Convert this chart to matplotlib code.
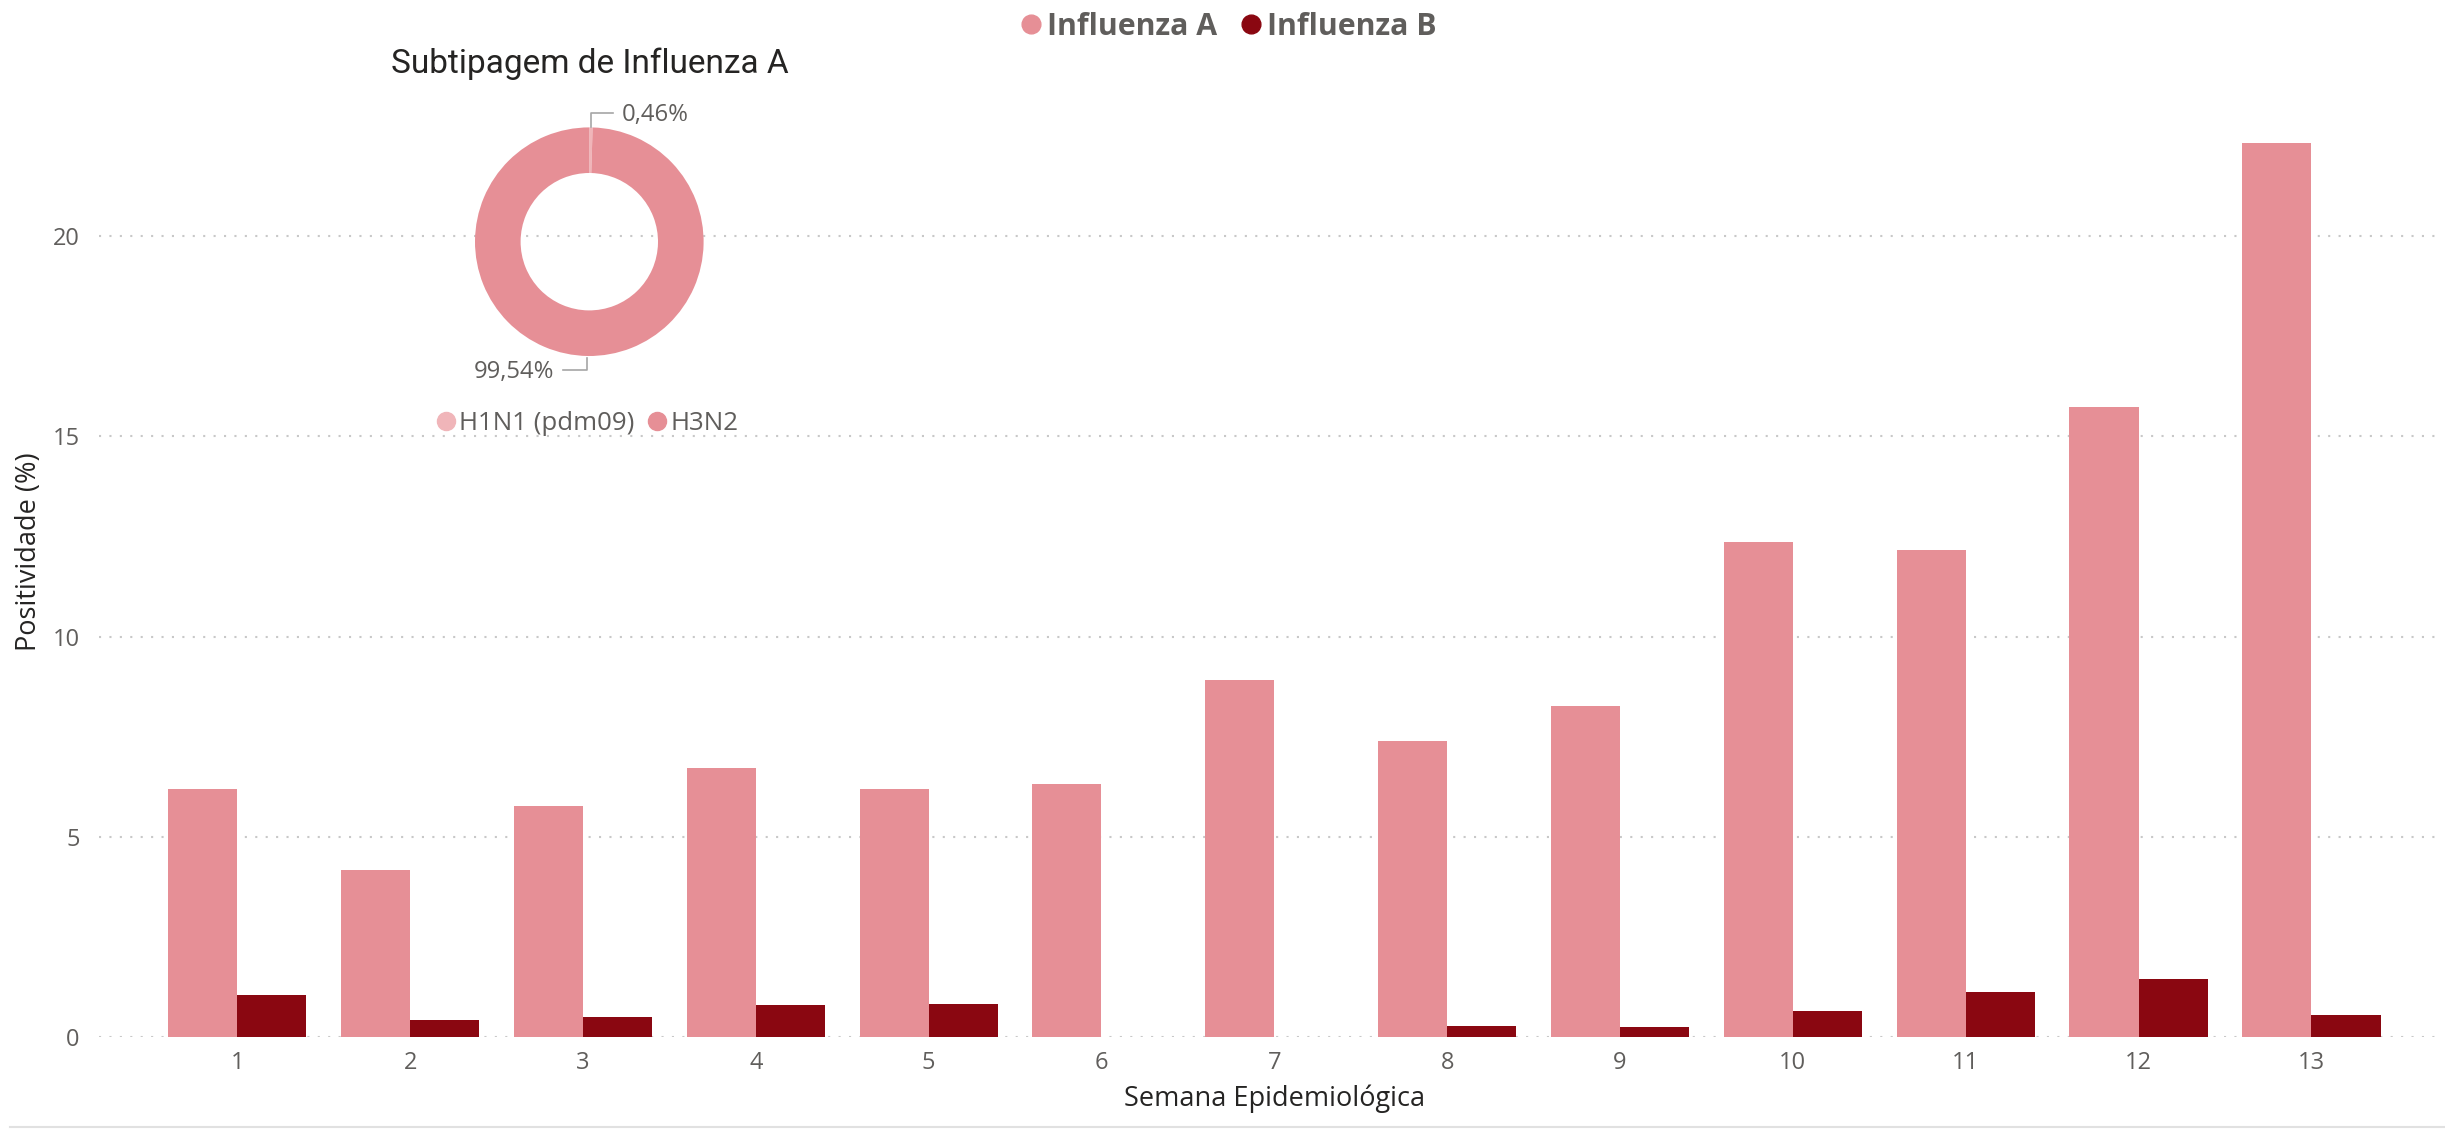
import numpy as np
import matplotlib
matplotlib.use("Agg")
import matplotlib.pyplot as plt
from matplotlib.lines import Line2D

# data
weeks = [str(i) for i in range(1, 14)]
flu_a = [6.19, 4.17, 5.76, 6.73, 6.19, 6.31, 8.91, 7.40, 8.26, 12.37, 12.17, 15.72, 22.32]
flu_b = [1.06, 0.43, 0.51, 0.81, 0.84, 0.0, 0.0, 0.28, 0.26, 0.66, 1.13, 1.46, 0.56]
sub_labels = ["H1N1 (pdm09)", "H3N2"]
sub_values = [0.46, 99.54]
sub_text = ["0,46%", "99,54%"]

C_A = "#E68F96"
C_B = "#8A0711"
C_H1 = "#F0B5B9"
GRAY_TXT = "#605E5C"
DARK_TXT = "#252423"

plt.rcParams['font.family'] = ['Open Sans', 'DejaVu Sans']

W, H = 2445, 1129
fig = plt.figure(figsize=(W / 100, H / 100), dpi=100)

# main bar chart
ax = fig.add_axes([99 / W, 1 - 1037.3 / H, (2441 - 99) / W, (1037.3 - 100) / H])
x = np.arange(len(weeks))
ax.bar(x - 0.2, flu_a, 0.4, color=C_A, label="Influenza A", zorder=2)
ax.bar(x + 0.2, flu_b, 0.4, color=C_B, label="Influenza B", zorder=2)
ax.set_xlim(-0.80, 12.75)
ax.set_ylim(0, (1037.3 - 100) / 40.07)
ax.set_xticks(x)
ax.set_xticklabels(weeks)
ax.set_yticks([0, 5, 10, 15, 20])
ax.yaxis.grid(True, color="#C8C8C8", linestyle=(0, (1, 4)), linewidth=1.5, zorder=0)
ax.set_axisbelow(True)
for s in ax.spines.values():
    s.set_visible(False)
ax.tick_params(axis='both', length=0, labelsize=17, labelcolor=GRAY_TXT)
ax.tick_params(axis='y', pad=14)
ax.tick_params(axis='x', pad=10)
ax.set_ylabel("Positividade (%)", fontsize=19.5, color=DARK_TXT)
ax.yaxis.set_label_coords(-0.024, 0.518)
ax.set_xlabel("Semana Epidemiológica", fontsize=19.5, color=DARK_TXT)
ax.xaxis.set_label_coords(0.502, -0.050)

handles = [Line2D([], [], marker='o', linestyle='none', markersize=13.5, color=c) for c in (C_A, C_B)]
leg = fig.legend(handles, ["Influenza A", "Influenza B"], loc='center', bbox_to_anchor=(0.5015, 0.976),
                 ncol=2, frameon=False, handletextpad=0.05, columnspacing=0.6, handlelength=1.0,
                 prop={'size': 21.8, 'weight': 'bold'})
for t in leg.get_texts():
    t.set_color(GRAY_TXT)

# donut inset
cx, cy = 589.3, 241.7
pax = fig.add_axes([(cx - 130) / W, 1 - (cy + 130) / H, 260 / W, 260 / H])
pax.pie(sub_values, colors=[C_H1, C_A], startangle=90, counterclock=False, radius=1.143,
        wedgeprops=dict(width=0.456, linewidth=0))
pax.set_xlim(-1.3, 1.3)
pax.set_ylim(-1.3, 1.3)
pax.set_aspect('equal')
pax.axis('off')
pax.plot([0.014, 0.014, 0.24], [1.15, 1.284, 1.284], color="#A6A6A6", lw=1.2, clip_on=False)
pax.text(0.32, 1.27, sub_text[0], fontsize=17.2, color=GRAY_TXT, ha='left', va='center')
pax.plot([-0.266, -0.02, -0.02], [-1.283, -1.283, -1.163], color="#A6A6A6", lw=1.2, clip_on=False)
pax.text(-0.35, -1.30, sub_text[1], fontsize=17.2, color=GRAY_TXT, ha='right', va='center')

fig.text(589.5 / W, 1 - 64 / H, "Subtipagem de Influenza A", fontsize=24, color=DARK_TXT,
         ha='center', va='center', family=['Roboto', 'DejaVu Sans'])

ph = [Line2D([], [], marker='o', linestyle='none', markersize=13, color=c) for c in (C_H1, C_A)]
pleg = fig.legend(ph, sub_labels, loc='center', bbox_to_anchor=(585.5 / W, 1 - 423.3 / H), ncol=2,
                  frameon=False, handletextpad=0.0, columnspacing=0.4, handlelength=1.0,
                  prop={'size': 18.6})
for t in pleg.get_texts():
    t.set_color(GRAY_TXT)

# light frame line at the bottom
fig.add_artist(Line2D([0.004, 1], [0.0015, 0.0015], color="#E1E1E1", lw=1.5))

fig.savefig("out.png", dpi=100, facecolor="white")
